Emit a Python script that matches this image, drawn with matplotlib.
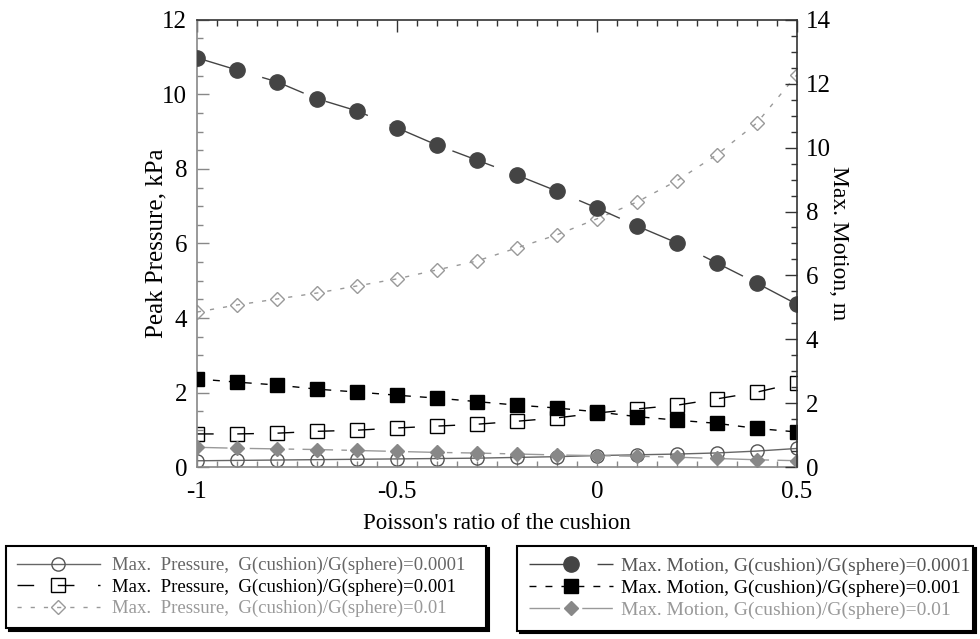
import numpy as np
import matplotlib.pyplot as plt
from matplotlib.ticker import MultipleLocator, FixedLocator

plt.rcParams['font.family'] = ['Liberation Serif', 'DejaVu Serif']
plt.rcParams['axes.unicode_minus'] = False
plt.rcParams['lines.scale_dashes'] = False

# Poisson's ratio of the cushion
nu = [-1.0, -0.9, -0.8, -0.7, -0.6, -0.5, -0.4, -0.3,
      -0.2, -0.1, 0.0, 0.1, 0.2, 0.3, 0.4, 0.5]

# peak pressure (kPa), left axis
p_0001 = [0.17, 0.18, 0.19, 0.20, 0.21, 0.22, 0.23, 0.24,
          0.26, 0.28, 0.31, 0.33, 0.35, 0.38, 0.43, 0.50]
p_001 = [0.89, 0.89, 0.91, 0.96, 0.99, 1.05, 1.10, 1.15,
         1.23, 1.32, 1.45, 1.56, 1.66, 1.83, 2.01, 2.26]
p_01 = [4.16, 4.35, 4.51, 4.67, 4.86, 5.05, 5.29, 5.53,
        5.88, 6.23, 6.66, 7.11, 7.68, 8.38, 9.23, 10.52]

# max motion (m), right axis
m_0001 = [12.81, 12.43, 12.06, 11.53, 11.15, 10.62, 10.08, 9.61,
          9.14, 8.64, 8.11, 7.55, 7.02, 6.39, 5.76, 5.10]
m_001 = [2.76, 2.66, 2.57, 2.44, 2.35, 2.25, 2.16, 2.05,
         1.94, 1.85, 1.73, 1.58, 1.47, 1.37, 1.21, 1.10]
m_01 = [0.62, 0.59, 0.57, 0.55, 0.52, 0.49, 0.46, 0.44,
        0.41, 0.38, 0.36, 0.34, 0.31, 0.27, 0.23, 0.20]

fig = plt.figure(figsize=(9.8, 6.39), dpi=100)
ax = fig.add_axes([0.201, 0.269, 0.612, 0.700])
ax2 = ax.twinx()

lp1, = ax.plot(nu, p_0001, color='#666666', lw=1, marker='o', ms=9.5,
               mfc='none', mec='#555555', mew=1,
               label='Max.  Pressure,  G(cushion)/G(sphere)=0.0001')
lp2, = ax.plot(nu, p_001, color='black', lw=1, dashes=(12, 17), marker='s',
               ms=9.5, mfc='none', mec='black', mew=1,
               label='Max.  Pressure,  G(cushion)/G(sphere)=0.001')
lp3, = ax.plot(nu, p_01, color='#999999', lw=1, dashes=(3, 6.5), marker='D',
               ms=7, mfc='none', mec='#999999', mew=1,
               label='Max.  Pressure,  G(cushion)/G(sphere)=0.01')

lm1, = ax2.plot(nu, m_0001, color='#444444', lw=1, dashes=(32, 17), marker='o',
                ms=11, mfc='#444444', mec='#444444',
                label='Max. Motion, G(cushion)/G(sphere)=0.0001')
lm2, = ax2.plot(nu, m_001, color='black', lw=1, dashes=(5, 6.5), marker='s',
                ms=10, mfc='black', mec='black',
                label='Max. Motion, G(cushion)/G(sphere)=0.001')
lm3, = ax2.plot(nu, m_01, color='#999999', lw=1, dashes=(22, 6, 4, 6), marker='D',
                ms=7.5, mfc='#888888', mec='#888888',
                label='Max. Motion, G(cushion)/G(sphere)=0.01')

ax.set_xlim(-1, 0.5)
ax.set_ylim(0, 12)
ax2.set_ylim(0, 14)

ax.xaxis.set_major_locator(FixedLocator([-1, -0.5, 0, 0.5]))
ax.set_xticklabels(['-1', '-0.5', '0', '0.5'])
ax.xaxis.set_minor_locator(MultipleLocator(0.05))
ax.yaxis.set_major_locator(MultipleLocator(2))
ax.yaxis.set_minor_locator(MultipleLocator(0.5))
ax2.yaxis.set_major_locator(MultipleLocator(2))
ax2.yaxis.set_minor_locator(MultipleLocator(0.5))

gray = '#888888'
dark = '#333333'
for s in ['top', 'right']:
    ax.spines[s].set_visible(False)
for s in ['left', 'bottom']:
    ax.spines[s].set_color(gray)
    ax2.spines[s].set_visible(False)
for s in ['top', 'right']:
    ax2.spines[s].set_color(dark)
for a in (ax, ax2):
    for s in a.spines.values():
        s.set_linewidth(1.2)

ax.tick_params(axis='y', which='both', direction='in', color=gray, labelsize=18, pad=7)
ax.tick_params(axis='x', which='both', direction='in', color=gray, labelsize=18, pad=10,
               top=False)
ax.tick_params(which='major', length=8.5, width=1)
ax.tick_params(which='minor', length=4.3, width=1)
ax2.tick_params(axis='y', which='both', direction='in', color=dark, labelsize=18, pad=6.5)
ax2.tick_params(which='major', length=8.5, width=1)
ax2.tick_params(which='minor', length=4.3, width=1)

# ticks along the top edge
top = ax.secondary_xaxis('top')
top.xaxis.set_major_locator(FixedLocator([-1, -0.5, 0, 0.5]))
top.xaxis.set_minor_locator(MultipleLocator(0.05))
top.tick_params(which='both', direction='in', color=dark, labeltop=False)
top.tick_params(which='major', length=8.5, width=1)
top.tick_params(which='minor', length=4.3, width=1)
top.spines['top'].set_visible(False)

ax.set_xlabel("Poisson's ratio of the cushion", fontsize=16.5, labelpad=7)
ax.set_ylabel('Peak Pressure, kPa', fontsize=18, labelpad=-4)
ax2.set_ylabel('Max. Motion, m', fontsize=17, rotation=270, labelpad=13)

ax2.set_zorder(ax.get_zorder() + 1)
ax2.patch.set_visible(False)

leg_kw = dict(mode='expand', frameon=True, fancybox=False,
              shadow={'color': 'black', 'alpha': 1},
              labelspacing=0.22, borderpad=0.6, borderaxespad=0)
leg1 = fig.legend(handles=[lp1, lp2, lp3], loc='upper left', fontsize=13.5,
                  handlelength=4.4, handletextpad=0.65,
                  bbox_to_anchor=(0.006, 0.008, 0.49, 0.138), **leg_kw)
leg2 = fig.legend(handles=[lm1, lm2, lm3], loc='upper left', fontsize=14,
                  handlelength=4.3, handletextpad=0.45,
                  bbox_to_anchor=(0.528, 0.008, 0.465, 0.138), **leg_kw)
for leg in (leg1, leg2):
    leg.get_frame().set_edgecolor('black')
    leg.get_frame().set_linewidth(1.5)
for t, c in zip(leg1.get_texts(), ['#666666', 'black', '#999999']):
    t.set_color(c)
for t, c in zip(leg2.get_texts(), ['#555555', 'black', '#999999']):
    t.set_color(c)

fig.savefig('out.png', dpi=100)
